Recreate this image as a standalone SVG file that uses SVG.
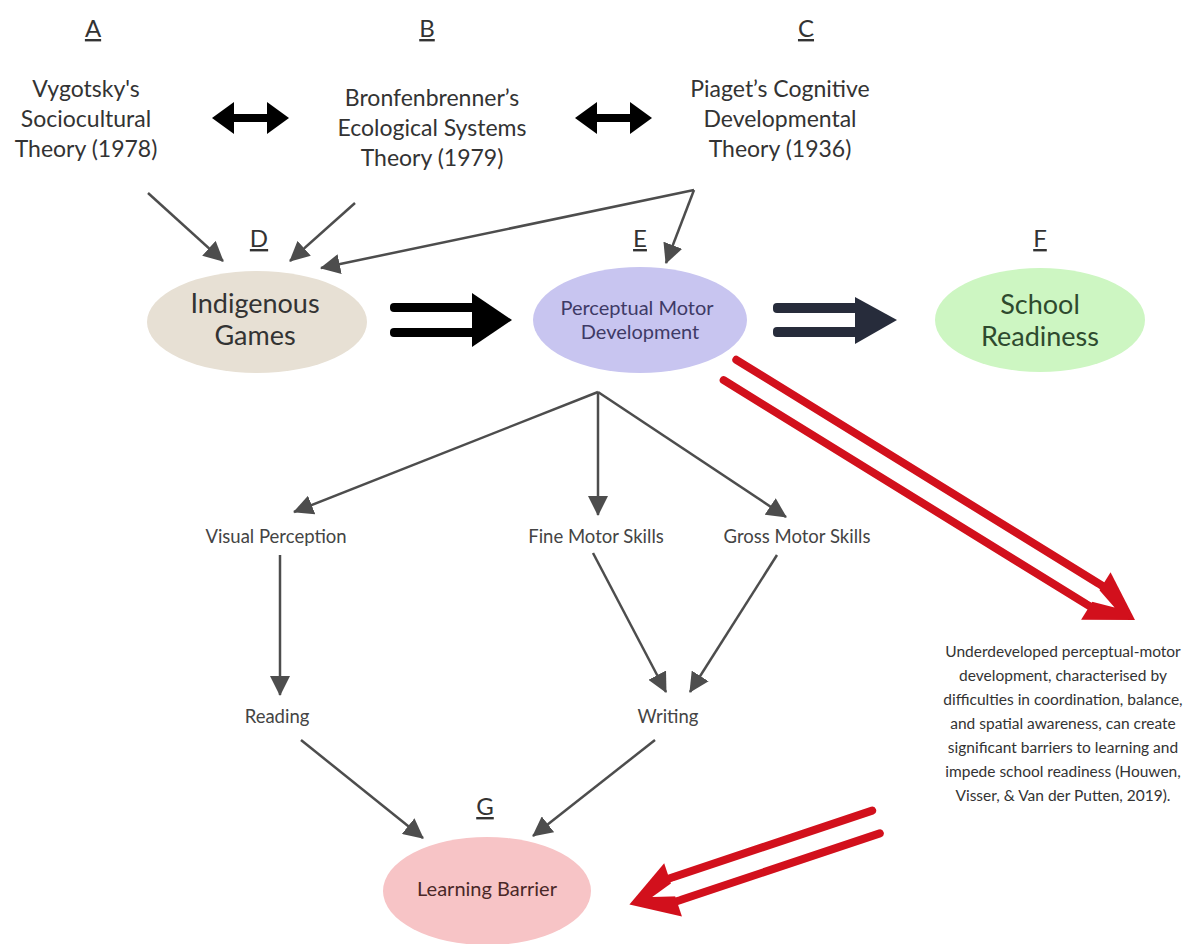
<svg xmlns="http://www.w3.org/2000/svg" width="1186" height="944" viewBox="0 0 1186 944">
<style>
text{font-family:Lato,"Open Sans","Liberation Sans",sans-serif;text-anchor:middle}
.lab{font-size:24px;fill:#333;text-decoration:underline}
.th{font-size:23px;fill:#333}
.sk{font-size:18.5px;fill:#444}
.par{font-size:15.5px;fill:#333}
.con{stroke:#4d4d4d;stroke-width:2.5;fill:none;marker-end:url(#ah)}
.rl{stroke:#d2101c;stroke-width:8;stroke-linecap:round;fill:none}
.rh{fill:#d2101c}
.rs{fill:#fff}
</style>
<defs>
<marker id="ah" viewBox="0 0 20 20" refX="19" refY="10" markerWidth="20" markerHeight="20" markerUnits="userSpaceOnUse" orient="auto">
<path d="M0,0 L20,10 L0,20 z" fill="#4d4d4d"/>
</marker>
</defs>
<rect width="1186" height="944" fill="#fff"/>

<g id="A">
<text class="lab" x="93" y="37">A</text>
<text class="th" x="86" y="97">Vygotsky's</text>
<text class="th" x="86" y="127">Sociocultural</text>
<text class="th" x="86" y="157">Theory (1978)</text>
</g>
<g id="B">
<text class="lab" x="427" y="37">B</text>
<text class="th" x="432" y="106">Bronfenbrenner’s</text>
<text class="th" x="432" y="136">Ecological Systems</text>
<text class="th" x="432" y="166">Theory (1979)</text>
</g>
<g id="C">
<text class="lab" x="806" y="37">C</text>
<text class="th" x="780" y="97">Piaget’s Cognitive</text>
<text class="th" x="780" y="127">Developmental</text>
<text class="th" x="780" y="157">Theory (1936)</text>
</g>

<g id="D">
<text class="lab" x="259" y="247">D</text>
<ellipse cx="257" cy="322" rx="110" ry="51" fill="#e7e0d4"/>
<text x="255" y="313" style="font-size:27px;fill:#333">Indigenous</text>
<text x="255" y="345" style="font-size:27px;fill:#333">Games</text>
</g>
<g id="E">
<text class="lab" x="640" y="247">E</text>
<ellipse cx="640" cy="320" rx="107" ry="53" fill="#c8c5f0"/>
<text x="637" y="315" style="font-size:20px;fill:#3e3a66">Perceptual Motor</text>
<text x="640" y="339" style="font-size:20px;fill:#3e3a66">Development</text>
</g>
<g id="F">
<text class="lab" x="1040" y="247">F</text>
<ellipse cx="1040" cy="320" rx="105" ry="52" fill="#cdf6c2"/>
<text x="1040" y="314" style="font-size:27px;fill:#2e4a2e">School</text>
<text x="1040" y="346" style="font-size:27px;fill:#2e4a2e">Readiness</text>
</g>
<g id="G">
<text class="lab" x="485" y="815">G</text>
<ellipse cx="487" cy="891" rx="104" ry="54" fill="#f7c4c6"/>
<text x="487" y="896" style="font-size:20px;fill:#4a2828">Learning Barrier</text>
</g>

<g id="visual"><text class="sk" x="276" y="543">Visual Perception</text></g>
<g id="fine"><text class="sk" x="596" y="543">Fine Motor Skills</text></g>
<g id="gross"><text class="sk" x="797" y="543">Gross Motor Skills</text></g>
<g id="reading"><text class="sk" x="277" y="723">Reading</text></g>
<g id="writing"><text class="sk" x="668" y="723">Writing</text></g>

<g id="note">
<text class="par" x="1063" y="657">Underdeveloped perceptual-motor</text>
<text class="par" x="1063" y="681">development, characterised by</text>
<text class="par" x="1063" y="705">difficulties in coordination, balance,</text>
<text class="par" x="1063" y="729">and spatial awareness, can create</text>
<text class="par" x="1063" y="753">significant barriers to learning and</text>
<text class="par" x="1063" y="777">impede school readiness (Houwen,</text>
<text class="par" x="1063" y="801">Visser, &amp; Van der Putten, 2019).</text>
</g>

<g id="connectors">
<path d="M212,118 L234,102 L234,114 L267,114 L267,102 L289,118 L267,134 L267,122 L234,122 L234,134 Z" fill="#000"/>
<path d="M575,118 L597,102 L597,114 L630,114 L630,102 L652,118 L630,134 L630,122 L597,122 L597,134 Z" fill="#000"/>

<line class="con" x1="148" y1="193" x2="223" y2="261"/>
<line class="con" x1="355" y1="203" x2="290" y2="261"/>
<line class="con" x1="694" y1="190" x2="321" y2="268"/>
<line class="con" x1="694" y1="190" x2="666" y2="263"/>

<line class="con" x1="598" y1="392" x2="294" y2="512"/>
<line class="con" x1="598" y1="392" x2="598" y2="515"/>
<line class="con" x1="598" y1="392" x2="786" y2="517"/>

<line class="con" x1="280" y1="555" x2="280" y2="695"/>
<line class="con" x1="593" y1="553" x2="666" y2="692"/>
<line class="con" x1="777" y1="555" x2="690" y2="692"/>
<line class="con" x1="301" y1="740" x2="423" y2="838"/>
<line class="con" x1="655" y1="740" x2="533" y2="836"/>

<g fill="#000">
<rect x="390" y="303" width="86" height="9" rx="4"/>
<rect x="390" y="328" width="86" height="9" rx="4"/>
<path d="M472,293 L512,320 L472,347 Z"/>
</g>
<g fill="#272c3b">
<rect x="773" y="303" width="86" height="10" rx="4"/>
<rect x="773" y="327" width="86" height="10" rx="4"/>
<path d="M855,297 L897,320 L855,344 Z"/>
</g>

<g transform="translate(730,370) rotate(31.7)">
<path class="rl" d="M0,-12 L440,-12 M0,12 L440,12"/>
<path class="rh" d="M430,-28 L476,0 L430,28 Z"/>
<path class="rs" d="M426,-8 L452,0 L426,8 Z"/>
</g>
<g transform="translate(876,822) rotate(161.5)">
<path class="rl" d="M0,-12 L222,-12 M0,12 L222,12"/>
<path class="rh" d="M214,-28 L260,0 L214,28 Z"/>
<path class="rs" d="M210,-8 L236,0 L210,8 Z"/>
</g>
</g>
</svg>
